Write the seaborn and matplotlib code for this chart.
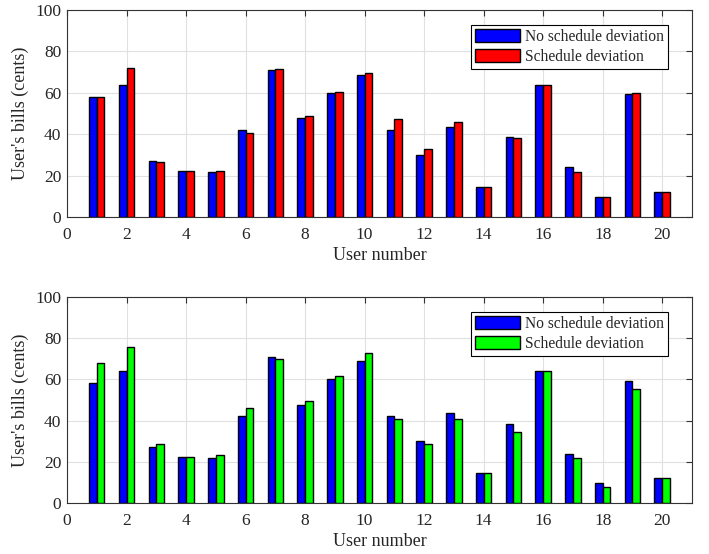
import pandas as pd
import matplotlib.pyplot as plt
import seaborn as sns

users = list(range(1, 21))
no_deviation = [58.2, 64.0, 27.0, 22.5, 22.0, 42.2, 71.0, 47.8, 60.0, 68.8,
                42.0, 30.0, 43.5, 14.5, 38.5, 64.0, 24.0, 9.8, 59.3, 12.3]
deviation_top = [58.2, 72.2, 26.5, 22.5, 22.5, 40.5, 71.5, 49.0, 60.5, 69.8,
                 47.3, 32.8, 45.8, 14.5, 38.3, 64.0, 22.0, 9.6, 59.8, 12.3]
deviation_bottom = [68.0, 75.8, 28.8, 22.5, 23.5, 46.0, 70.0, 49.3, 61.5, 73.0,
                    41.0, 28.5, 41.0, 14.5, 34.5, 64.0, 21.8, 8.0, 55.5, 12.3]
series_names = ['No schedule deviation', 'Schedule deviation']

sns.set_style('white')
plt.rcParams['font.family'] = ['Liberation Serif', 'DejaVu Serif']

fig = plt.figure(figsize=(7.09, 5.54), dpi=100)
ax_top = fig.add_axes([0.0945, 0.608, 0.8815, 0.374])
ax_bot = fig.add_axes([0.0945, 0.092, 0.8815, 0.372])


def make_frame(second):
    df = pd.DataFrame({'user': users * 2,
                       'bill': no_deviation + second,
                       'case': [series_names[0]] * 20 + [series_names[1]] * 20})
    return df


for ax, second, col in [(ax_top, deviation_top, '#ff0000'),
                        (ax_bot, deviation_bottom, '#00ff00')]:
    df = make_frame(second)
    sns.barplot(data=df, x='user', y='bill', hue='case', native_scale=True,
                palette=['#0000ff', col], width=0.52, edgecolor='black',
                linewidth=1.0, saturation=1, ax=ax, errorbar=None)
    ax.set_xlim(0, 21)
    ax.set_ylim(0, 100)
    ax.set_xticks(range(0, 21, 2))
    ax.set_yticks(range(0, 101, 20))
    ax.grid(True, color='#e0e0e0', linewidth=0.8)
    ax.set_axisbelow(True)
    ax.tick_params(direction='in', top=True, right=True, labelsize=12.5,
                   length=4, color='#333333', pad=4)
    ax.tick_params(axis='x', pad=7)
    for s in ax.spines.values():
        s.set_color('#333333')
        s.set_linewidth(0.8)
    ax.set_xlabel('User number', fontsize=13, labelpad=3)
    ax.set_ylabel("User's bills (cents)", fontsize=13, labelpad=5)
    leg = ax.legend(loc='upper right', bbox_to_anchor=(0.9616, 0.9275),
                    borderaxespad=0, fontsize=11.2, frameon=True, fancybox=False,
                    edgecolor='black', framealpha=1, handlelength=2.9,
                    handleheight=0.95, borderpad=0.25, labelspacing=0.25,
                    handletextpad=0.3, title=None)
    leg.get_frame().set_linewidth(0.8)

fig.savefig('out.png', dpi=100)
